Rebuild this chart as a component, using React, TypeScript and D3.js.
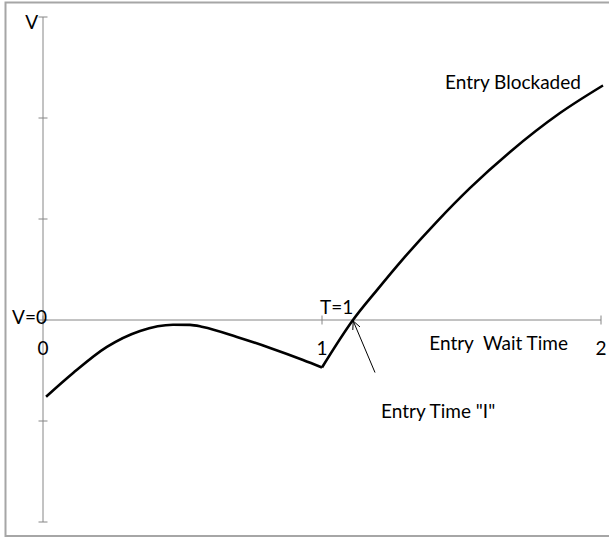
import React from "react";
import * as d3 from "d3";

const leftT = [0.011, 0.108, 0.229, 0.348, 0.466, 0.527, 0.573, 0.695, 0.814, 0.932, 1.0];
const leftV = [-0.76, -0.525, -0.267, -0.109, -0.047, -0.048, -0.069, -0.168, -0.277, -0.396, -0.47];
const rightT = [1.0, 1.111, 1.197, 1.29, 1.412, 1.53, 1.674, 1.853, 2.007];
const rightV = [-0.47, 0, 0.296, 0.603, 0.975, 1.306, 1.664, 2.049, 2.322];
const xTicks = [0, 1, 2];
const xTickLabels = ["0", "1", "2"];
const yTicks = [-2, -1, 0, 1, 2, 3];
const arrowTail = [1.19, -0.52];
const arrowHead = [1.112, -0.01];

const W = 609;
const H = 540;
const FONT = "Lato, 'Open Sans', sans-serif";

export default function App() {
  const x = d3.scaleLinear().domain([0, 2]).range([43, 601]);
  const y = d3.scaleLinear().domain([-2, 3]).range([522, 17]);
  const line = d3
    .line<[number, number]>()
    .x((d) => x(d[0]))
    .y((d) => y(d[1]))
    .curve(d3.curveMonotoneX);
  const leftPts = leftT.map((t, i) => [t, leftV[i]] as [number, number]);
  const rightPts = rightT.map((t, i) => [t, rightV[i]] as [number, number]);

  const hx = x(arrowHead[0]);
  const hy = y(arrowHead[1]);
  const tx = x(arrowTail[0]);
  const ty = y(arrowTail[1]);
  const ang = Math.atan2(ty - hy, tx - hx);
  const al = 9;
  const spread = 0.45;
  const a1 = [hx + al * Math.cos(ang + spread), hy + al * Math.sin(ang + spread)];
  const a2 = [hx + al * Math.cos(ang - spread), hy + al * Math.sin(ang - spread)];

  const axisColor = "#868686";
  const fs = 19;

  return (
    <svg
      width={W}
      height={H}
      style={{ position: "absolute", left: 0, top: 0, background: "#fff" }}
      fontFamily={FONT}
    >
      <rect x={5.5} y={2.5} width={620} height={533.5} fill="#fff" stroke="#a6a6a6" strokeWidth={2} />
      {/* y axis */}
      <line x1={x(0)} x2={x(0)} y1={y(3)} y2={y(-2)} stroke={axisColor} strokeWidth={1} />
      {yTicks.map((v) => (
        <line key={v} x1={x(0) - 4.5} x2={x(0) + 4.5} y1={y(v)} y2={y(v)} stroke={axisColor} strokeWidth={1} />
      ))}
      {/* x axis */}
      <line x1={x(0)} x2={x(2)} y1={y(0)} y2={y(0)} stroke={axisColor} strokeWidth={1} />
      {xTicks.map((t) => (
        <line key={t} x1={x(t)} x2={x(t)} y1={y(0) - 4.5} y2={y(0) + 4.5} stroke={axisColor} strokeWidth={1} />
      ))}
      {xTicks.map((t, i) => (
        <text key={"l" + t} x={x(t)} y={y(0) + 35} textAnchor="middle" fontSize={fs} fill="#000">
          {xTickLabels[i]}
        </text>
      ))}
      {/* curve */}
      <path d={line(leftPts) || ""} fill="none" stroke="#000" strokeWidth={2.6} />
      <path d={line(rightPts) || ""} fill="none" stroke="#000" strokeWidth={2.6} />
      {/* arrow */}
      <line x1={tx} y1={ty} x2={hx} y2={hy} stroke="#000" strokeWidth={1} />
      <polyline points={`${a1[0]},${a1[1]} ${hx},${hy} ${a2[0]},${a2[1]}`} fill="none" stroke="#000" strokeWidth={1} />
      {/* labels */}
      <text x={38} y={29} textAnchor="end" fontSize={fs} fill="#000">V</text>
      <text x={47} y={324} textAnchor="end" fontSize={fs} fill="#000">V=0</text>
      <text x={320} y={314} fontSize={fs} fill="#000">T=1</text>
      <text x={568} y={350} textAnchor="end" fontSize={fs} fill="#000" style={{ whiteSpace: "pre" }}>
        {"Entry  Wait Time"}
      </text>
      <text x={445} y={89} fontSize={fs} fill="#000">Entry Blockaded</text>
      <text x={381} y={418} fontSize={fs} fill="#000">Entry Time "I"</text>
    </svg>
  );
}
